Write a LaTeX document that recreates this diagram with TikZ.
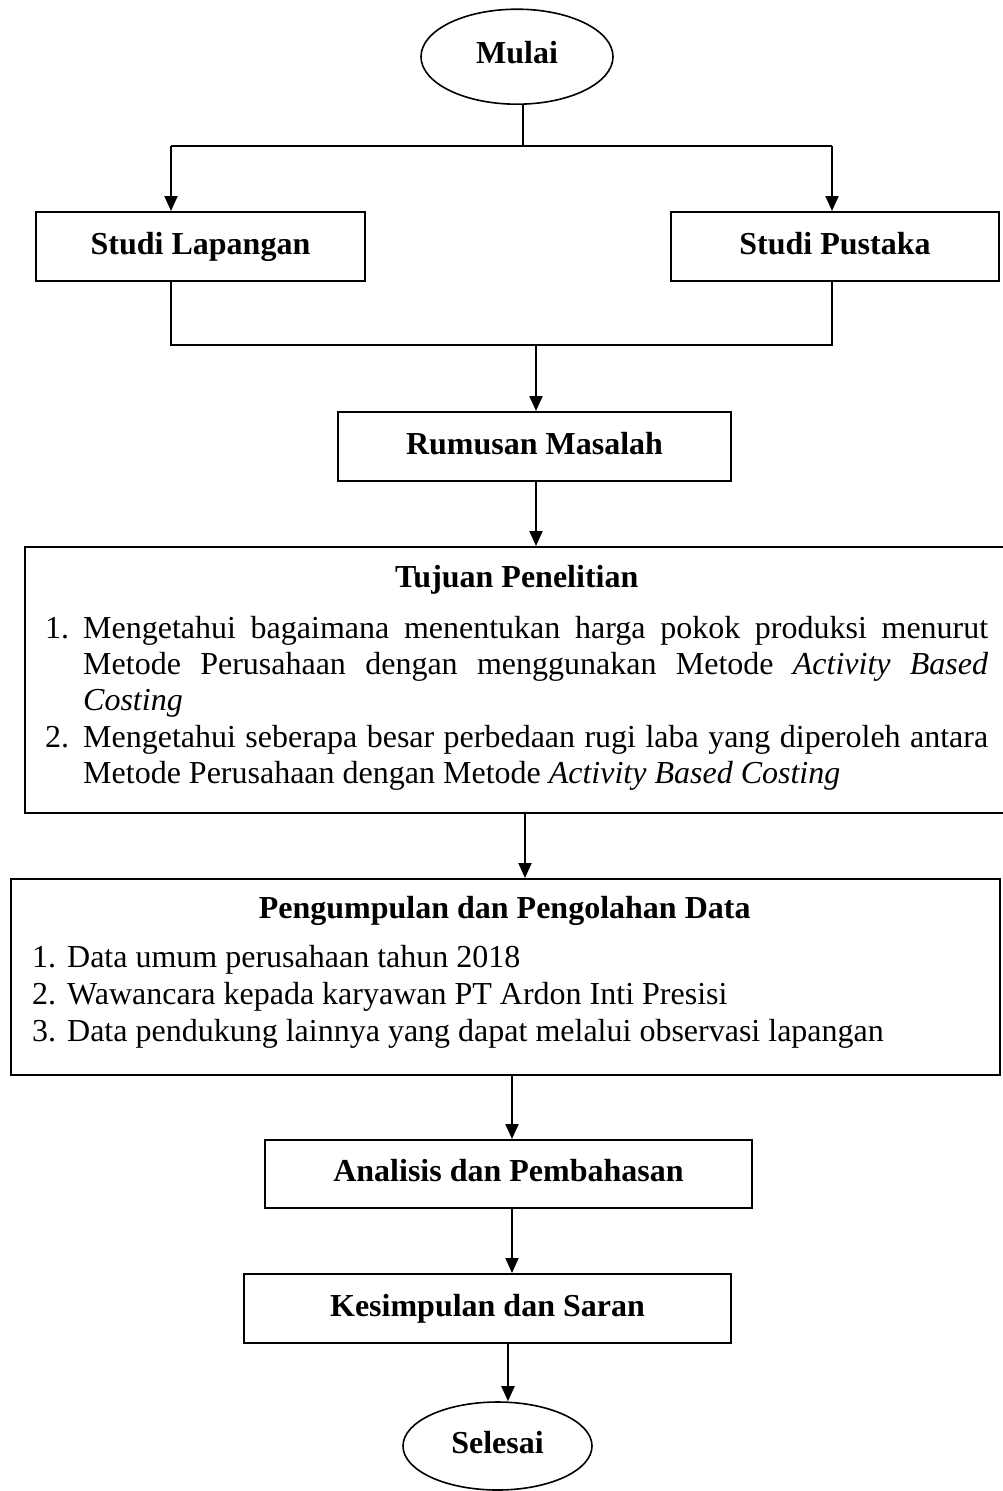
\documentclass[tikz,border=0pt]{standalone}
\usepackage{fontspec}
\setmainfont{Liberation Serif}
\usetikzlibrary{arrows.meta,shapes.geometric}
\begin{document}
\begin{tikzpicture}[x=1pt,y=1pt,
  every node/.style={font=\fontsize{32}{36.3}\selectfont},
  box/.style={draw, line width=2pt, rectangle, inner sep=0pt,
    text height=22pt, text depth=7pt,
    font=\fontsize{32}{36.3}\selectfont\bfseries},
  panel/.style={draw, line width=2pt, rectangle, inner sep=0pt, anchor=north west},
  term/.style={draw, line width=1.6pt, ellipse, inner sep=0pt,
    text height=22pt, text depth=8pt,
    font=\fontsize{32}{36.3}\selectfont\bfseries},
  txt/.style={inner sep=0pt, anchor=base west, align=justify},
  link/.style={line width=2pt},
  arr/.style={line width=2pt, -{Triangle[length=15pt,width=13pt]}},
]
\useasboundingbox (0,0) rectangle (1003,-1491);

% start and the two studies
\node[term, minimum width=192pt, minimum height=95pt] (mulai) at (517,-56.7) {Mulai};
\node[box, minimum width=329pt, minimum height=69pt] (lap) at (200.5,-246.5) {Studi Lapangan};
\node[box, minimum width=328pt, minimum height=69pt] (pus) at (835,-246.5) {Studi Pustaka};
\node[box, minimum width=393pt, minimum height=69pt] (rum) at (534.5,-446.5) {Rumusan Masalah};

% research objectives
\node[panel, minimum width=988pt, minimum height=266pt] (tuj) at (24,-546) {};
\node[txt, text width=943pt] (tujtxt) at (45,-587) {%
  {\centering\bfseries Tujuan Penelitian\par}\vspace{15pt}%
  \hangindent=38pt\hangafter=1\noindent\makebox[38pt][l]{1.}Mengetahui bagaimana menentukan harga pokok produksi menurut\linebreak
  Metode Perusahaan dengan menggunakan Metode \textit{Activity Based}\linebreak
  \textit{Costing}\par
  \hangindent=38pt\hangafter=1\noindent\makebox[38pt][l]{2.}Mengetahui seberapa besar perbedaan rugi laba yang diperoleh antara\linebreak
  Metode Perusahaan dengan Metode \textit{Activity Based Costing}\par};

% data collection
\node[panel, minimum width=989pt, minimum height=196pt] (peng) at (10,-878) {};
\node[txt, text width=945pt, font=\fontsize{32}{37}\selectfont] (pengtxt) at (32,-918) {%
  {\centering\bfseries Pengumpulan dan Pengolahan Data\par}\vspace{12pt}%
  \noindent\makebox[35pt][l]{1.}Data umum perusahaan tahun 2018\par
  \noindent\makebox[35pt][l]{2.}Wawancara kepada karyawan PT Ardon Inti Presisi\par
  \noindent\makebox[35pt][l]{3.}Data pendukung lainnya yang dapat melalui observasi lapangan\par};

\node[box, minimum width=487pt, minimum height=68pt] (ana) at (508.5,-1174) {Analisis dan Pembahasan};
\node[box, minimum width=487pt, minimum height=69pt] (kes) at (487.5,-1308.5) {Kesimpulan dan Saran};
\node[term, minimum width=189pt, minimum height=88pt] (sel) at (497.5,-1446) {Selesai};

% split after start
\coordinate (jc) at (523,-146);
\coordinate (jl) at (171,-146);
\coordinate (jr) at (832,-146);
\draw[link] (mulai.south -| jc) -- (jc);
\draw[link] (jl) -- (jr);
\draw[arr] (jl) -- (jl |- lap.north);
\draw[arr] (jr) -- (jr |- pus.north);

% merge of the two studies
\coordinate (ml) at (171,-345);
\coordinate (mr) at (832,-345);
\coordinate (mm) at (536,-345);
\draw[link] (ml |- lap.south) -- (ml) -- (mr) -- (mr |- pus.south);
\draw[arr] (mm) -- (mm |- rum.north);

% main chain
\draw[arr] ([xshift=1.5pt]rum.south) -- ([xshift=1.5pt]rum.south |- tuj.north);
\draw[arr] ([xshift=6pt]tuj.south) -- ([xshift=6pt]tuj.south |- peng.north);
\draw[arr] ([xshift=3.5pt]ana.north |- peng.south) -- ([xshift=3.5pt]ana.north);
\draw[arr] ([xshift=3.5pt]ana.south) -- ([xshift=3.5pt]ana.south |- kes.north);
\draw[arr] ([xshift=10.5pt]sel.north |- kes.south) -- ([xshift=10.5pt]sel.north);
\end{tikzpicture}
\end{document}
